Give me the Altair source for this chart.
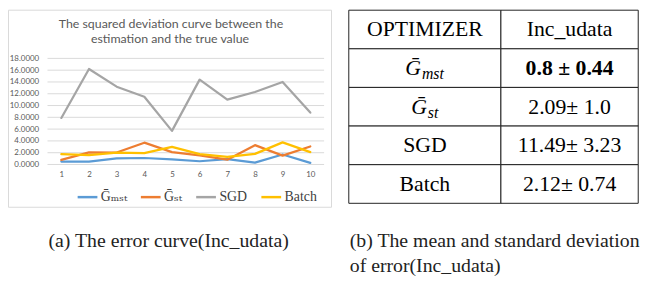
import altair as alt
import pandas as pd

# ---------------- data ----------------
x_points = [1, 2, 3, 4, 5, 6, 7, 8, 9, 10]
g_mst = [0.50, 0.50, 1.05, 1.10, 0.88, 0.55, 0.92, 0.32, 1.70, 0.27]
g_st = [0.78, 2.05, 2.03, 3.70, 2.10, 1.55, 0.82, 3.28, 1.50, 3.06]
sgd = [7.90, 16.20, 13.20, 11.50, 5.70, 14.40, 11.00, 12.30, 14.00, 8.80]
batch = [1.75, 1.58, 2.02, 1.92, 2.98, 1.75, 1.28, 1.80, 3.75, 2.10]
series_names = ["Ḡₘₛₜ", "Ḡₛₜ", "SGD", "Batch"]
series_colors = ["#5B9BD5", "#ED7D31", "#A5A5A5", "#FFC000"]
y_ticks = [0, 2, 4, 6, 8, 10, 12, 14, 16, 18]
chart_title = ["The squared deviation curve between the", "estimation  and the true value"]

table_rows = ["header", "mst", "st", "sgd", "batch"]
table_first_col = ["OPTIMIZER", "Ḡ", "Ḡ", "SGD", "Batch"]
table_subscripts = ["", "mst", "st", "", ""]
table_second_col = ["Inc_udata", "0.8 ± 0.44", "2.09± 1.0", "11.49± 3.23", "2.12± 0.74"]
table_bold = [False, True, False, False, False]

caption_a = "(a) The error curve(Inc_udata)"
caption_b = ["(b) The mean and standard deviation", "of error(Inc_udata)"]

# ---------------- tables built from the lists ----------------
line_df = pd.DataFrame(
    [
        {"x": x, "series": name, "value": v}
        for name, vals in zip(series_names, [g_mst, g_st, sgd, batch])
        for x, v in zip(x_points, vals)
    ]
)
grid_df = pd.DataFrame({"tick": y_ticks})

cells = []
for i, r in enumerate(table_rows):
    cells.append({"row": r, "c0": 0, "c1": 1, "cx": 0.5, "text": table_first_col[i],
                  "sub": table_subscripts[i], "bold": False, "col": 0})
    cells.append({"row": r, "c0": 1, "c1": 2, "cx": 1.5, "text": table_second_col[i],
                  "sub": "", "bold": table_bold[i], "col": 1})
cell_df = pd.DataFrame(cells)

SERIF = "Liberation Serif"
SERIF_G = "Liberation Serif, DejaVu Serif"
SERIF_LEG = "Liberation Serif, DejaVu Serif, Noto Sans"
SANS = "Lato"
GRAY_TXT = "#595959"

# ---------------- scales ----------------
xs = alt.Scale(domain=[0.5, 10.5], range=[40, 320], nice=False, zero=False)
ys = alt.Scale(domain=[0, 18], range=[156.7, 49.3], nice=False, zero=False)
tx = alt.Scale(domain=[0, 1, 2], range=[345, 499, 638], nice=False, zero=False)
ty = alt.Scale(domain=table_rows, range=[0.5, 196], paddingInner=0, paddingOuter=0)

one = pd.DataFrame({"k": [0]})

# frame around the left panel
frame = alt.Chart(one).mark_rect(fillOpacity=0, stroke="#D9D9D9", strokeWidth=1).encode(
    x=alt.value(0.5), x2=alt.value(327.5), y=alt.value(0.5), y2=alt.value(200)
)

grid = alt.Chart(grid_df).mark_rule(color="#D9D9D9", strokeWidth=1).encode(
    x=alt.XDatum(0.5, type="quantitative", scale=xs, axis=None),
    x2=alt.X2Datum(10.5),
    y=alt.Y("tick:Q", scale=ys, axis=None),
)

lines = alt.Chart(line_df).mark_line(strokeWidth=2.25, strokeJoin="round", strokeCap="round").encode(
    x=alt.X(
        "x:Q",
        scale=xs,
        axis=alt.Axis(
            orient="bottom", values=x_points, format="d", domain=False, ticks=False, grid=False,
            labelColor=GRAY_TXT, labelFont=SANS, labelFontSize=8, offset=-121.3,
            labelPadding=6, title=None,
        ),
    ),
    y=alt.Y(
        "value:Q",
        scale=ys,
        axis=alt.Axis(
            orient="left", values=y_ticks, format=".4f", domain=False, ticks=False, grid=False,
            labelColor=GRAY_TXT, labelFont=SANS, labelFontSize=8, offset=-40,
            labelPadding=9, title=None,
        ),
    ),
    color=alt.Color(
        "series:N",
        scale=alt.Scale(domain=series_names, range=series_colors),
        legend=alt.Legend(
            orient="none", legendX=69, legendY=178, direction="horizontal", title=None,
            symbolType="stroke", symbolStrokeWidth=2.5, symbolSize=400, padding=0,
            labelFont=SERIF_LEG, labelFontSize=14, labelColor="#404040",
            columnPadding=8, labelOffset=2,
        ),
    ),
    order=alt.Order("series:N"),
)

title_df = pd.DataFrame({"t": chart_title, "line": [0, 1]})
title1 = alt.Chart(title_df.iloc[[0]]).mark_text(
    font=SANS, fontSize=12.5, color=GRAY_TXT, align="center", baseline="middle"
).encode(x=alt.value(165), y=alt.value(15), text="t:N")
title2 = alt.Chart(title_df.iloc[[1]]).mark_text(
    font=SANS, fontSize=12.5, color=GRAY_TXT, align="center", baseline="middle"
).encode(x=alt.value(164), y=alt.value(30), text="t:N")

# ---------------- table ----------------
rects = alt.Chart(cell_df).mark_rect(fill="white", stroke="#222222", strokeWidth=1).encode(
    x=alt.X("c0:Q", scale=tx, axis=None),
    x2="c1:Q",
    y=alt.Y("row:N", scale=ty, axis=None, sort=table_rows),
)

def table_text(df, font=SERIF, **kw):
    return alt.Chart(df).mark_text(font=font, fontSize=22, color="black", baseline="middle", **kw).encode(
        x=alt.X("cx:Q", scale=tx, axis=None),
        y=alt.Y("row:N", scale=ty, axis=None, sort=table_rows),
        text="text:N",
    )

plain_df = cell_df[(~cell_df["bold"]) & (cell_df["sub"] == "")]
bold_df = cell_df[cell_df["bold"]]
plain_text = table_text(plain_df, align="center")
bold_text = table_text(bold_df, align="center", fontWeight="bold")

g_layers = []
for r, dx in [("mst", -4), ("st", 2)]:
    d = cell_df[(cell_df["row"] == r) & (cell_df["col"] == 0)]
    g_layers.append(table_text(d, font=SERIF_G, align="right", fontStyle="italic", dx=dx))
    g_layers.append(
        alt.Chart(d).mark_text(
            font=SERIF, fontSize=16, color="black", baseline="middle", align="left",
            fontStyle="italic", dx=dx + 1, dy=6,
        ).encode(
            x=alt.X("cx:Q", scale=tx, axis=None),
            y=alt.Y("row:N", scale=ty, axis=None, sort=table_rows),
            text="sub:N",
        )
    )

# ---------------- captions ----------------
cap_df = pd.DataFrame({"t": [caption_a] + caption_b})
cap_a = alt.Chart(cap_df.iloc[[0]]).mark_text(font=SERIF, fontSize=20, color="#222222", align="left", baseline="middle").encode(
    x=alt.value(41), y=alt.value(234), text="t:N")
cap_b1 = alt.Chart(cap_df.iloc[[1]]).mark_text(font=SERIF, fontSize=20, color="#222222", align="left", baseline="middle").encode(
    x=alt.value(346), y=alt.value(234), text="t:N")
cap_b2 = alt.Chart(cap_df.iloc[[2]]).mark_text(font=SERIF, fontSize=20, color="#222222", align="left", baseline="middle").encode(
    x=alt.value(346), y=alt.value(260), text="t:N")

chart = (
    alt.layer(frame, grid, lines, title1, title2, rects, plain_text, bold_text, *g_layers, cap_a, cap_b1, cap_b2)
    .resolve_scale(x="independent", y="independent", color="independent")
    .properties(width=656, height=278, padding=0, autosize=alt.AutoSizeParams(type="none"))
    .configure_view(stroke=None)
)

chart.save("out.html", embed_options={"renderer": "svg", "actions": False})
